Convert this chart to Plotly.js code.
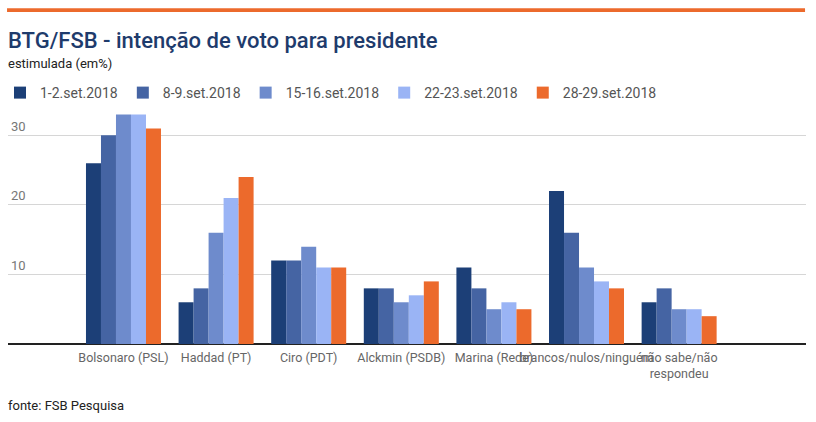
<!DOCTYPE html>
<html><head><meta charset="utf-8">
<script src="https://cdn.plot.ly/plotly-3.0.1.min.js"></script>
<style>html,body{margin:0;padding:0;background:#fff;}#chart{width:816px;height:422px;}</style>
</head><body><div id="chart"></div>
<script>
var categories = ["Bolsonaro (PSL)", "Haddad (PT)", "Ciro (PDT)", "Alckmin (PSDB)", "Marina (Rede)", "brancos/nulos/ninguém", "não sabe/não<br>respondeu"];
var seriesNames = ["1-2.set.2018", "8-9.set.2018", "15-16.set.2018", "22-23.set.2018", "28-29.set.2018"];
var s1 = [26, 6, 12, 8, 11, 22, 6];
var s2 = [30, 8, 12, 8, 8, 16, 8];
var s3 = [33, 16, 14, 6, 5, 11, 5];
var s4 = [33, 21, 11, 7, 6, 9, 5];
var s5 = [31, 24, 11, 9, 5, 8, 4];
var colors = ["#1c3f77", "#4564a3", "#6e8bcc", "#9ab4f5", "#ec6a2c"];
var yTicks = [10, 20, 30];

var all = [s1, s2, s3, s4, s5];
var traces = all.map(function (v, i) {
  return {type: "bar", name: seriesNames[i], x: categories, y: v,
    marker: {color: colors[i], line: {width: 0}}, hoverinfo: "y"};
});

var layout = {
  width: 816, height: 422,
  margin: {l: 8, r: 10, t: 111, b: 78, autoexpand: false},
  paper_bgcolor: "#fff", plot_bgcolor: "#fff",
  font: {family: "Roboto, sans-serif", color: "#555"},
  barmode: "group", bargap: 0.19, bargroupgap: 0,
  showlegend: true,
  legend: {orientation: "h", xref: "container", yref: "container", x: 0, xanchor: "left",
    y: 0.7796, yanchor: "middle",
    font: {size: 14, color: "#555"}, itemwidth: 30, traceorder: "normal"},
  xaxis: {type: "category", range: [-1.247, 7.37], showgrid: false, ticks: "",
    tickfont: {size: 12.5, color: "#666"}, showline: false, zeroline: false, fixedrange: true,
    tickangle: 0, ticklabelstandoff: 4},
  yaxis: {range: [0, 33.5], tickvals: yTicks, showgrid: true, gridcolor: "#d6d6d6", gridwidth: 1,
    zeroline: true, zerolinecolor: "#222", zerolinewidth: 1.5, showline: false,
    ticklabelposition: "inside top", tickfont: {size: 13, color: "#777"}, fixedrange: true},
  shapes: [{type: "rect", xref: "paper", yref: "paper", x0: -0.0012, x1: 0.9988, y0: 1.425, y1: 1.441,
    fillcolor: "#ec6a2c", line: {width: 0}}],
  annotations: [
    {xref: "paper", yref: "paper", x: -0.002, y: 1.24, xanchor: "left", yanchor: "bottom", showarrow: false,
      text: "BTG/FSB - intenção de voto para presidente", font: {size: 22, color: "#1e3b6c", family: "Roboto, sans-serif", weight: 500}},
    {xref: "paper", yref: "paper", x: -0.002, y: 1.164, xanchor: "left", yanchor: "bottom", showarrow: false,
      text: "estimulada (em%)", font: {size: 13, color: "#222"}},
    {xref: "paper", yref: "paper", x: -0.002, y: -0.225, xanchor: "left", yanchor: "top", showarrow: false,
      text: "fonte: FSB Pesquisa", font: {size: 13, color: "#222"}}
  ]
};
Plotly.newPlot("chart", traces, layout, {displayModeBar: false, staticPlot: true});
</script></body></html>
